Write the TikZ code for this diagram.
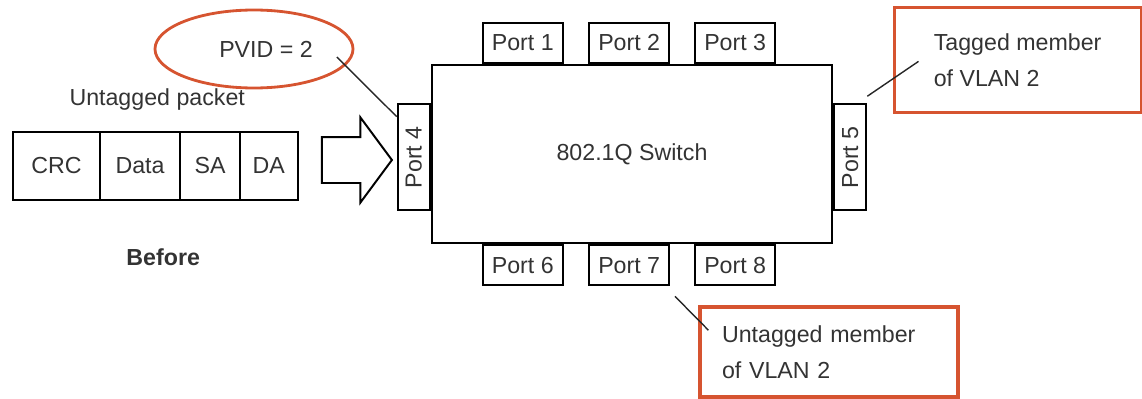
\documentclass[tikz,border=0pt]{standalone}
\usepackage{fontspec}
\setmainfont{Liberation Sans}
\usetikzlibrary{shapes.geometric, shapes.arrows, positioning, calc}
\definecolor{calloutred}{RGB}{214,84,48}

\begin{document}
\begin{tikzpicture}[
        font=\fontsize{16.5}{26}\selectfont,
        every node/.style={text=black!80},
        switchbox/.style={rectangle, draw=black, line width=1.4pt, minimum width=10.02cm, minimum height=4.47cm},
        port/.style={rectangle, draw=black, line width=1.4pt, minimum width=2cm, minimum height=1cm, inner sep=0pt},
        sideport/.style={port, rotate=90, minimum width=2.64cm, minimum height=0.8cm},
        field/.style={rectangle, draw=black, line width=1.4pt, minimum height=1.71cm, inner sep=0pt, outer sep=0pt},
        note/.style={rectangle, draw=calloutred, line width=2.2pt, align=left},
        pointer/.style={draw=black!85, line width=1pt}
    ]
        \useasboundingbox (0,0) rectangle (28.55,9.95);

        % The switch and its ports
        \node[switchbox] (sw) at (15.8, 6.1) {802.1Q Switch};

        \node[port, anchor=south] (p1) at ([xshift=-2.73cm]sw.north) {Port 1};
        \node[port, anchor=south] (p2) at ([xshift=-0.07cm]sw.north) {Port 2};
        \node[port, anchor=south] (p3) at ([xshift=2.58cm]sw.north) {Port 3};
        \node[port, anchor=north] (p6) at ([xshift=-2.73cm]sw.south) {Port 6};
        \node[port, anchor=north] (p7) at ([xshift=-0.07cm]sw.south) {Port 7};
        \node[port, anchor=north] (p8) at ([xshift=2.58cm]sw.south) {Port 8};

        \node[sideport, anchor=south] (p4) at ([yshift=-0.08cm]sw.west) {Port 4};
        \node[sideport, anchor=north] (p5) at ([yshift=-0.08cm]sw.east) {Port 5};

        % Untagged packet
        \node[field, minimum width=2.18cm, anchor=west] (crc) at (0.32, 5.8) {CRC};
        \node[field, minimum width=2cm, right=0pt of crc] (data) {Data};
        \node[field, minimum width=1.5cm, right=0pt of data] (sa) {SA};
        \node[field, minimum width=1.44cm, right=0pt of sa] (da) {DA};

        \node (pkt) at (3.93, 7.45) {Untagged packet};
        \node[font=\fontsize{16.5}{20}\selectfont\bfseries] (before) at (4.08, 3.53) {Before};

        \node[single arrow, draw=black, line width=1.4pt, inner xsep=0pt, inner ysep=0.55cm,
              minimum height=1.75cm,
              single arrow head extend=0.49cm, single arrow tip angle=107] (push) at (8.71, 5.95) {};

        % Callouts
        \node[ellipse, draw=calloutred, line width=2pt, inner sep=0pt,
              minimum width=4.95cm, minimum height=1.95cm] (pvid) at (6.35, 8.725) {\hspace{0.6cm}PVID = 2};
        \node[note, minimum width=6.175cm, minimum height=2.625cm] (tagged) at (25.44, 8.44) {Tagged member\\of VLAN 2};
        \node[note, text width=5.35cm, inner xsep=0.55cm, minimum height=2.25cm] (untagged) at (20.725, 1.15) {Untagged member\\of VLAN 2};

        \draw[pointer] ([shift={(2.07,-0.2)}]pvid.center) -- ([yshift=-0.33cm]p4.north east);
        \draw[pointer] ([yshift=0.18cm]p5.south east) -- ([shift={(0.65,-1.375)}]tagged.north west);
        \draw[pointer] ([shift={(0.12,-0.25)}]p7.south east) -- ([shift={(0.25,-0.62)}]untagged.north west);
    \end{tikzpicture}
\end{document}
